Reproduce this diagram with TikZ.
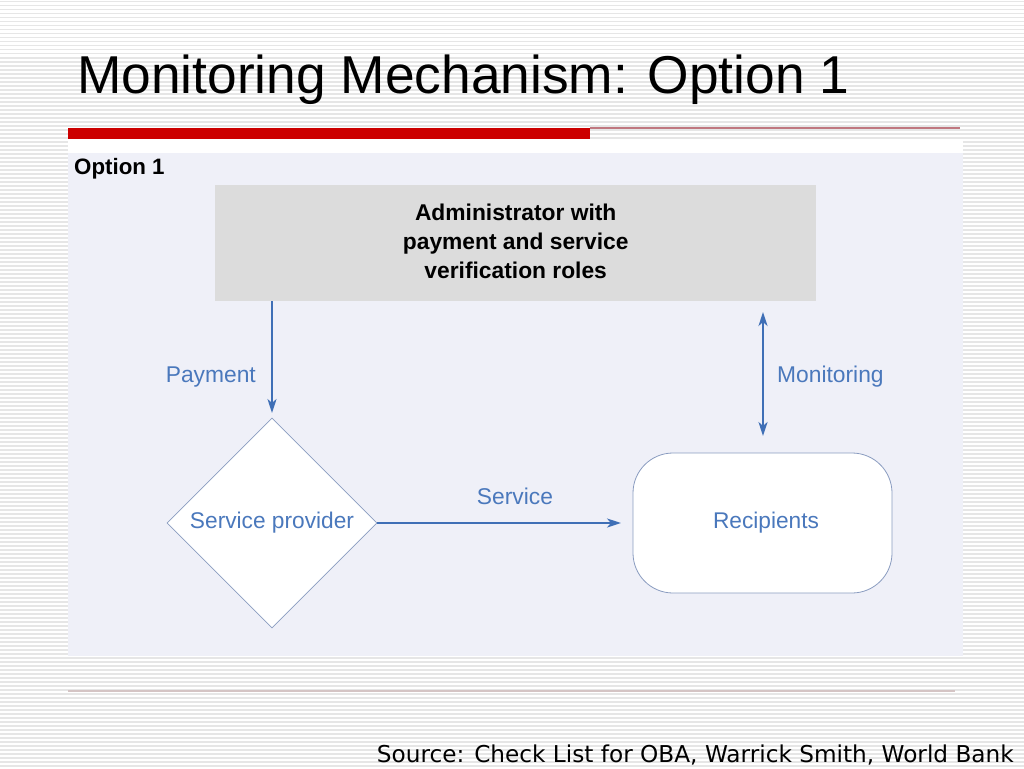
\documentclass[tikz,border=0pt]{standalone}
\usepackage{fontspec}
\setmainfont{Liberation Sans}
\newfontfamily\srcfont{DejaVu Sans}
\usetikzlibrary{arrows.meta,shapes.geometric}
\definecolor{panel}{HTML}{EFF0F8}
\definecolor{boxgray}{HTML}{DCDCDC}
\definecolor{arrowblue}{HTML}{3F6FB6}
\definecolor{txtblue}{HTML}{4A78BC}
\definecolor{redbar}{HTML}{CC0000}
\definecolor{thinred}{HTML}{C07880}
\definecolor{stripe}{HTML}{E6E6E6}
\definecolor{shapeedge}{HTML}{8A9CC0}
\definecolor{botline}{HTML}{D4C4C4}
\tikzset{
  px/.style={x=1pt,y=-1pt},
  conn/.style={draw=arrowblue,line width=2.2pt,-{Stealth[length=14pt,width=9pt,inset=4pt]}},
  bconn/.style={draw=arrowblue,line width=2.2pt,{Stealth[length=14pt,width=9pt,inset=4pt]}-{Stealth[length=14pt,width=9pt,inset=4pt]}},
  lbl/.style={text=txtblue,font=\fontsize{22.8}{27}\selectfont,inner sep=0pt},
}
\begin{document}
\begin{tikzpicture}[px]
\useasboundingbox (0,0) rectangle (1024,768);
\fill[white] (0,0) rectangle (1024,768);
\foreach \i in {0,...,191} {
  \fill[stripe] (0,{\i*4+1}) rectangle (1024,{\i*4+2.5});
}
% title
\node[anchor=base west,inner sep=0pt,font=\fontsize{53.3}{64}\selectfont] (title) at (77,93) {Monitoring Mechanism: Option 1};
% red bar and thin line
\fill[redbar] (68,128) rectangle (590,139);
\fill[thinred] (590,126.5) rectangle (960,128.5);
% white band and panel
\fill[white] (68,140) rectangle (963,153);
\fill[panel] (68,153) rectangle (963,656);
\node[anchor=west,inner sep=0pt,font=\fontsize{22.3}{26}\selectfont\bfseries] (opt) at (74,169) {Option 1};
% admin box
\node[fill=boxgray,minimum width=601pt,minimum height=116pt,inner sep=0pt,anchor=north west,
      align=center,font=\fontsize{22.8}{29}\selectfont\bfseries] (admin) at (215,185)
  {\raisebox{4pt}{\begin{tabular}{@{}c@{}}Administrator with\\payment and service\\verification roles\end{tabular}}};
% diamond
\node[diamond,draw=shapeedge,line width=0.8pt,fill=white,minimum width=210pt,minimum height=210pt,inner sep=0pt,
      text=txtblue,font=\fontsize{22.7}{27}\selectfont] (sp) at (272,523) {\raisebox{-3pt}{Service provider}};
% recipients
\node[draw=shapeedge,line width=0.8pt,fill=white,rounded corners=40pt,minimum width=259pt,minimum height=140pt,
      text=txtblue,font=\fontsize{22.7}{27}\selectfont] (rec) at (762.5,523) {\hspace*{7pt}\raisebox{-3pt}{Recipients}};
% connectors
\coordinate (payEnd) at (272,413);
\coordinate (payStart) at (272,301);
\draw[conn] (payStart) -- (payEnd);
\node[lbl,anchor=east] (paylbl) at (256,377) {Payment};
\coordinate (svcEnd) at (621,523);
\draw[conn] (sp.east) -- (svcEnd);
\node[lbl] (svclbl) at (515,496) {Service};
\coordinate (monTop) at (763,312);
\coordinate (monBot) at (763,436);
\draw[bconn] (monTop) -- (monBot);
\node[lbl,anchor=west] (monlbl) at (777,377) {Monitoring};
% bottom line and source
\fill[botline] (68,690) rectangle (955,691.5);
\node[anchor=base east,inner sep=0pt,font=\srcfont\fontsize{23.2}{27}\selectfont] (src) at (1014,762) {Source: Check List for OBA, Warrick Smith, World Bank};
\end{tikzpicture}
\end{document}
